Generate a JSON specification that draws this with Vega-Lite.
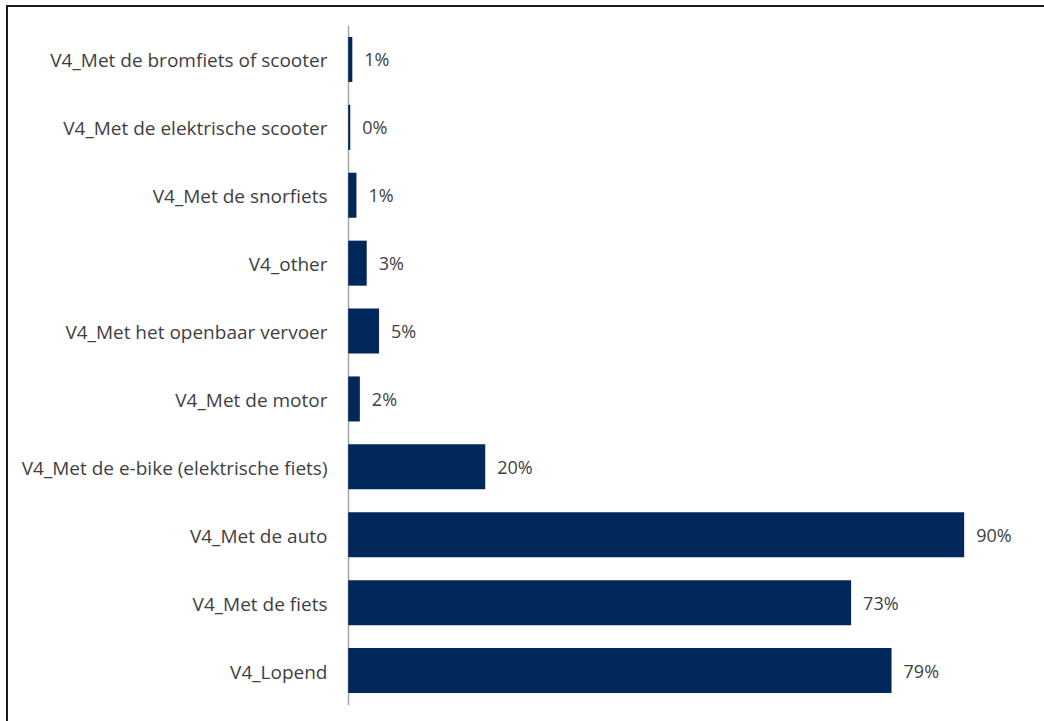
{
  "$schema": "https://vega.github.io/schema/vega-lite/v6.json",
  "autosize": "none",
  "padding": {"left": 7, "top": 6, "right": 0, "bottom": 0},
  "width": 1062,
  "height": 720,
  "background": "white",
  "config": {
    "view": {"stroke": "#1a1a1a", "strokeWidth": 2},
    "font": "Open Sans"
  },
  "data": {
    "values": [
      {"mode": "V4_Met de bromfiets of scooter", "share": 0.006},
      {"mode": "V4_Met de elektrische scooter", "share": 0.003},
      {"mode": "V4_Met de snorfiets", "share": 0.012},
      {"mode": "V4_other", "share": 0.027},
      {"mode": "V4_Met het openbaar vervoer", "share": 0.045},
      {"mode": "V4_Met de motor", "share": 0.017},
      {"mode": "V4_Met de e-bike (elektrische fiets)", "share": 0.2},
      {"mode": "V4_Met de auto", "share": 0.899},
      {"mode": "V4_Met de fiets", "share": 0.734},
      {"mode": "V4_Lopend", "share": 0.793}
    ]
  },
  "encoding": {
    "y": {
      "field": "mode",
      "type": "nominal",
      "sort": null,
      "scale": {"range": [19.5, 698.5], "paddingInner": 0.337, "paddingOuter": 0.1685},
      "axis": {
        "title": null,
        "offset": -341,
        "ticks": false,
        "domainColor": "#a6a6a6",
        "domainWidth": 1.5,
        "labelPadding": 21,
        "labelOffset": 2,
        "labelFont": "Open Sans",
        "labelFontSize": 19,
        "labelColor": "#3f3f3f",
        "labelLimit": 400
      }
    },
    "x": {
      "field": "share",
      "type": "quantitative",
      "scale": {"domain": [-0.498, 1.052], "nice": false, "zero": false},
      "axis": null
    }
  },
  "layer": [
    {"mark": {"type": "bar", "color": "#00285A"}},
    {
      "mark": {"type": "text", "align": "left", "baseline": "middle", "dx": 12, "dy": 2, "font": "Open Sans", "fontSize": 18, "color": "#3f3f3f"},
      "encoding": {"text": {"field": "share", "type": "quantitative", "format": ".0%"}}
    }
  ]
}
